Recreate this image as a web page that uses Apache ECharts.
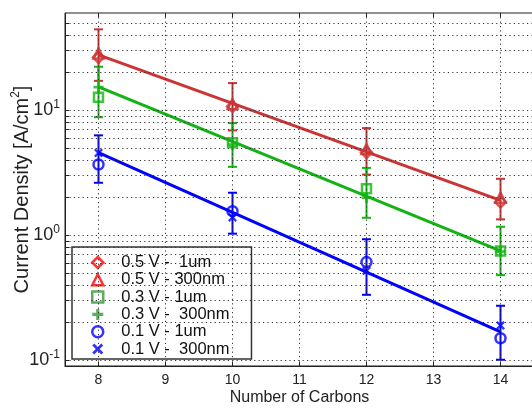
<!DOCTYPE html>
<html>
<head>
<meta charset="utf-8">
<script src="https://cdn.jsdelivr.net/npm/echarts@6/dist/echarts.min.js"></script>
<style>
html,body{margin:0;padding:0;background:#fff;}
#chart{width:532px;height:408px;}
</style>
</head>
<body>
<div id="chart"></div>
<script>
// ---- data ----
const carbons = [8, 10, 12, 14];
const red1um   = [26.5, 10.7, 4.6, 1.85];
const red300nm = [28.5, 11.2, 4.9, 2.0];
const green1um   = [12.7, 5.5, 2.36, 0.75];
const green300nm = [15.3, 5.3, 2.0, 0.74];
const blue1um   = [3.68, 1.56, 0.61, 0.15];
const blue300nm = [4.56, 1.39, 0.52, 0.19];
const redLow  = [17.2, 6.9, 3.06, 1.34];
const redHigh = [44.4, 16.5, 7.2, 2.83];
const greenLow  = [8.8, 3.53, 1.38, 0.48];
const greenHigh = [22.3, 7.9, 3.46, 1.17];
const blueLow  = [2.63, 1.03, 0.334, 0.101];
const blueHigh = [6.3, 2.19, 0.93, 0.273];
const fitX = [8, 14];
const redFit = [27.7, 1.9];
const greenFit = [15.4, 0.75];
const blueFit = [4.58, 0.169];
const legendNames = ['0.5 V -  1um', '0.5 V - 300nm', '0.3 V - 1um', '0.3 V -  300nm', '0.1 V - 1um', '0.1 V -  300nm'];
const xTicks = [8, 9, 10, 11, 12, 13, 14];
const yGrid = [0.1,0.2,0.3,0.4,0.5,0.6,0.7,0.8,0.9,1,2,3,4,5,6,7,8,9,10,20,30,40,50];

const RED = '#cc3333', GREEN = '#12b312', BLUE = '#0000ff';
const FONT = 'Liberation Sans, Arial, Helvetica, sans-serif';
const PLUS = 'path://M3.6,0h2.8v3.6h3.6v2.8h-3.6v3.6h-2.8v-3.6h-3.6v-2.8h3.6z';
const CROSS = 'path://M0,1.8L1.8,0L5,3.2L8.2,0L10,1.8L6.8,5L10,8.2L8.2,10L5,6.8L1.8,10L0,8.2L3.2,5z';

const pairs = (xs, ys) => xs.map((x, i) => [x, ys[i]]);
const errData = (lo, hi) => carbons.map((x, i) => [x, lo[i], hi[i]]);

function errSeries(lo, hi, color) {
  return {
    type: 'custom', z: 3, silent: true,
    data: errData(lo, hi),
    encode: { x: 0, y: [1, 2] },
    renderItem: function (params, api) {
      const x = api.value(0);
      const p1 = api.coord([x, api.value(1)]);
      const p2 = api.coord([x, api.value(2)]);
      const w = 4.5;
      const st = { stroke: color, lineWidth: 2 };
      return { type: 'group', children: [
        { type: 'line', shape: { x1: p1[0], y1: p1[1], x2: p2[0], y2: p2[1] }, style: st },
        { type: 'line', shape: { x1: p1[0] - w, y1: p1[1], x2: p1[0] + w, y2: p1[1] }, style: st },
        { type: 'line', shape: { x1: p2[0] - w, y1: p2[1], x2: p2[0] + w, y2: p2[1] }, style: st }
      ]};
    }
  };
}
function fitSeries(ys, color) {
  return { type: 'line', z: 4, silent: true, data: pairs(fitX, ys), showSymbol: false,
    lineStyle: { color: color, width: 3 } };
}
function hollow(name, ys, color, symbol, size) {
  return { type: 'scatter', name: name, z: 5, data: pairs(carbons, ys), symbol: symbol,
    symbolSize: size, symbolKeepAspect: true,
    itemStyle: { color: 'rgba(255,255,255,0)', borderColor: color, borderWidth: 2.5 } };
}
function filled(name, ys, color, symbol, size) {
  return { type: 'scatter', name: name, z: 5, data: pairs(carbons, ys), symbol: symbol,
    symbolSize: size, symbolKeepAspect: true,
    itemStyle: { color: color, borderWidth: 0 } };
}

const gridStyle = { type: [1.2, 3.2], color: '#333', width: 1 };
const tickStyle = { type: 'solid', color: '#222', width: 1 };
const gridLines = {
  type: 'line', data: [], z: 1, silent: true,
  markLine: {
    silent: true, symbol: ['none', 'none'], label: { show: false }, animation: false,
    lineStyle: gridStyle,
    data: yGrid.map(v => ({ yAxis: v })).concat(xTicks.map(v => ({ xAxis: v })))
  }
};
const tickLines = {
  type: 'line', data: [], z: 2, silent: true,
  markLine: {
    silent: true, symbol: ['none', 'none'], label: { show: false }, animation: false,
    lineStyle: tickStyle,
    data: yGrid.map(v => [{ coord: [7.5, v] }, { coord: [7.56, v] }])
      .concat(xTicks.map(v => [{ coord: [v, 0.09] }, { coord: [v, 0.0969] }]))
      .concat(xTicks.map(v => [{ coord: [v, 60] }, { coord: [v, 55.7] }]))
  }
};

const legendColors = ['#ff0000', '#ff0000', '#339933', '#339933', '#0000ff', '#0000ff'];
const legendHollow = [true, true, true, false, true, false];

const chart = echarts.init(document.getElementById('chart'), null, { renderer: 'canvas' });
chart.setOption({
  animation: false,
  backgroundColor: '#fff',
  textStyle: { fontFamily: FONT },
  grid: { left: 65, right: -2, top: 13, bottom: 42, containLabel: false, outerBoundsMode: 'none',
    show: true, borderColor: '#222', borderWidth: 1, backgroundColor: '#fff' },
  xAxis: {
    type: 'value', min: 7.5, max: 14.5, interval: 0.5,
    name: 'Number of Carbons', nameLocation: 'middle', nameGap: 24, nameMoveOverlap: false,
    nameTextStyle: { fontSize: 16, color: '#222', fontFamily: FONT },
    axisLine: { show: true, lineStyle: { color: '#222', width: 1 } },
    axisTick: { show: false }, splitLine: { show: false },
    axisLabel: { fontSize: 14, color: '#222', margin: 7, fontFamily: FONT,
      formatter: v => (Math.abs(v - Math.round(v)) < 1e-6 && v >= 8 && v <= 14) ? String(Math.round(v)) : '' }
  },
  yAxis: {
    type: 'log', logBase: 10, min: 0.09, max: 60,
    name: 'Current Density [A/cm{s|2}]', nameLocation: 'middle', nameGap: 31, nameRotate: 90,
    nameMoveOverlap: false,
    nameTextStyle: { fontSize: 20, color: '#222', fontFamily: FONT,
      rich: { s: { fontSize: 12, padding: [0, 0, 12, 0], fontFamily: FONT, color: '#222' } } },
    axisLine: { show: true, lineStyle: { color: '#222', width: 1 } },
    axisTick: { show: false }, splitLine: { show: false }, minorTick: { show: false },
    axisLabel: {
      margin: 5, color: '#222', fontFamily: FONT, showMinLabel: false, showMaxLabel: false,
      formatter: function (v) {
        const l = Math.log10(v); const e = Math.round(l);
        if (Math.abs(l - e) > 1e-6) return '';
        return '{b|10}{s|' + e + '}';
      },
      rich: {
        b: { fontSize: 18, color: '#222', fontFamily: FONT },
        s: { fontSize: 12, color: '#222', fontFamily: FONT, padding: [0, 0, 11, 0] }
      }
    }
  },
  legend: {
    orient: 'vertical', left: 72, top: 247,
    backgroundColor: '#fff', borderColor: '#333', borderWidth: 1.5,
    padding: [7, 22, 1.5, 19], itemGap: 0.3, itemWidth: 11, itemHeight: 11,
    textStyle: { fontSize: 16.5, lineHeight: 17, color: '#111', fontFamily: FONT, padding: [0, 0, 0, 13] },
    data: legendNames.map((n, i) => ({
      name: n,
      itemStyle: legendHollow[i]
        ? { color: '#fff', borderColor: legendColors[i], borderWidth: 2.5 }
        : { color: legendColors[i], borderWidth: 0 }
    }))
  },
  series: [
    gridLines, tickLines,
    errSeries(redLow, redHigh, RED), errSeries(greenLow, greenHigh, GREEN), errSeries(blueLow, blueHigh, BLUE),
    fitSeries(redFit, RED), fitSeries(greenFit, GREEN), fitSeries(blueFit, BLUE),
    hollow(legendNames[0], red1um, RED, 'diamond', 11),
    hollow(legendNames[1], red300nm, RED, 'triangle', 10),
    hollow(legendNames[2], green1um, GREEN, 'rect', 9),
    filled(legendNames[3], green300nm, GREEN, PLUS, 10),
    hollow(legendNames[4], blue1um, BLUE, 'circle', 10),
    filled(legendNames[5], blue300nm, BLUE, CROSS, 9)
  ]
});
</script>
</body>
</html>
